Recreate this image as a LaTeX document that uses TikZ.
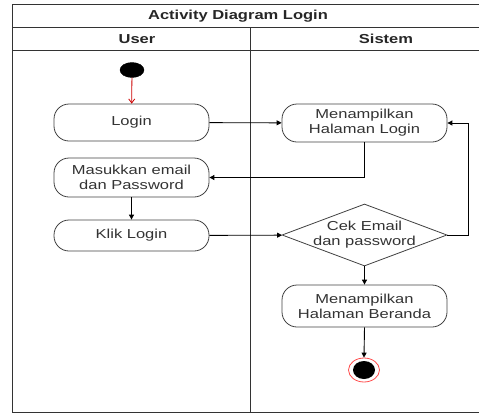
\documentclass[tikz,border=0pt]{standalone}
\usepackage{fontspec}
\setmainfont{Liberation Sans}[FakeStretch=1.27]
\usetikzlibrary{shapes.geometric,arrows.meta}
\tikzset{
  frameline/.style={draw=black!80, line width=1pt},
  lanetext/.style={font=\fontsize{13}{15}\selectfont\bfseries, text=black!85},
  actbox/.style={draw=black!75, line width=0.8pt, rounded corners=15pt,
    minimum width=155pt, align=center, inner sep=0pt,
    font=\fontsize{13}{15}\selectfont, text=black!80},
  flow/.style={draw=black, line width=0.9pt, -{Triangle[length=5pt,width=5pt]}},
  startflow/.style={draw=red!80!black, line width=0.8pt, -{Straight Barb[length=4pt,width=6pt]}},
  plaintext/.style={font=\fontsize{13}{15}\selectfont, text=black!80, align=center, inner sep=0pt}
}
\begin{document}
\begin{tikzpicture}[x=1pt,y=-1pt]
\useasboundingbox (0,0) rectangle (479,413);

% swimlane frame
\draw[frameline] (480,4) -- (12,4) -- (12,412) -- (480,412);
\draw[frameline] (12,27) -- (480,27);
\draw[frameline] (12,50) -- (480,50);
\draw[frameline] (250,27) -- (250,412);

\node[lanetext] (title) at (238,16) {Activity Diagram Login};
\node[lanetext] (user) at (137,39) {User};
\node[lanetext] (sistem) at (386,39) {Sistem};

% start node
\node[ellipse, fill=black, draw=black, minimum width=24pt, minimum height=15pt, inner sep=0pt] (start) at (132,70) {};

% activities
\node[actbox, minimum height=37pt] (login) at (131.5,122.5) {Login};
\node[actbox, minimum width=165pt, minimum height=38pt] (mhl) at (364.5,123) {Menampilkan\\Halaman Login};
\node[actbox, minimum height=39pt] (masuk) at (131.5,177.5) {Masukkan email\\dan Password};
\node[actbox, minimum height=31pt] (klik) at (131.5,235.5) {Klik Login};
\node[diamond, draw=black!75, line width=0.8pt, minimum width=165pt, minimum height=62pt, inner sep=0pt] (cek) at (364.5,235) {};
\node[plaintext] (cektext) at (364.5,235) {Cek Email\\dan password};
\node[actbox, minimum width=165pt, minimum height=42pt] (beranda) at (364.5,306) {Menampilkan\\Halaman Beranda};

% final node
\node[ellipse, draw=red!70, line width=0.8pt, fill=white, minimum width=31pt, minimum height=24pt, inner sep=0pt] (final) at (364,370) {};
\node[ellipse, fill=black, minimum width=22pt, minimum height=18pt, inner sep=0pt] (finaldot) at (final) {};

\coordinate (loopx) at (468,0);

% flows
\draw[startflow] (start) -- (login);
\draw[flow] (login) -- (mhl);
\draw[flow] (mhl.south) |- (masuk.east);
\draw[flow] (masuk) -- (klik);
\draw[flow] (klik) -- (cek);
\draw[flow] (cek.east) -- (cek.east -| loopx) |- (mhl.east);
\draw[flow] (cek.south) -- (beranda.north);
\draw[flow] (beranda.south) -- (final.north);
\end{tikzpicture}
\end{document}
